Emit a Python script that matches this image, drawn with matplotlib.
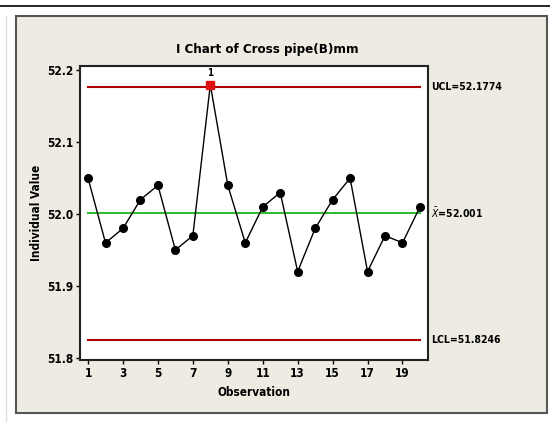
import matplotlib
matplotlib.use("Agg")
import matplotlib.pyplot as plt
from matplotlib.patches import Rectangle
from matplotlib.lines import Line2D

observations = list(range(1, 21))
values = [52.05, 51.96, 51.98, 52.02, 52.04, 51.95, 51.97, 52.18, 52.04, 51.96,
          52.01, 52.03, 51.92, 51.98, 52.02, 52.05, 51.92, 51.97, 51.96, 52.01]
ucl = 52.1774
center = 52.001
lcl = 51.8246
out_of_control = [8]
xticks = [1, 3, 5, 7, 9, 11, 13, 15, 17, 19]
yticks = [51.8, 51.9, 52.0, 52.1, 52.2]

plt.rcParams['font.family'] = ['DejaVu Sans']
plt.rcParams['font.stretch'] = 'condensed'

W, H = 550, 422
fig = plt.figure(figsize=(W / 100, H / 100), dpi=100)
fig.patch.set_facecolor('white')

# panel background
fig.patches.append(Rectangle((16 / W, 1 - 413 / H), (547 - 16) / W, (413 - 16) / H,
                             transform=fig.transFigure, facecolor='#EEEBE2',
                             edgecolor='#555555', linewidth=1.5, zorder=-5))
fig.lines.append(Line2D([0, 1], [1 - 6 / H, 1 - 6 / H], transform=fig.transFigure,
                        color='black', linewidth=1.2, zorder=-5))
fig.lines.append(Line2D([6 / W, 6 / W], [1 - 16 / H, 0], transform=fig.transFigure,
                        color='#DDDDDD', linewidth=1, zorder=-5))

ax = fig.add_axes([80 / W, 1 - 360 / H, (428 - 80) / W, (360 - 66) / H])
ax.set_zorder(5)
ax.set_facecolor('white')
ax.set_xlim(0.54, 20.46)
ax.set_ylim(51.797, 52.206)

ax.plot([1, 20], [ucl, ucl], color='#B00000', linewidth=1.5, zorder=1)
ax.plot([1, 20], [lcl, lcl], color='#B00000', linewidth=1.5, zorder=1)
ax.plot([1, 20], [center, center], color='#33BB33', linewidth=1.5, zorder=1)

ax.plot(observations, values, color='black', linewidth=1, marker='o',
        markersize=5.5, zorder=2)
for o in out_of_control:
    ax.plot([o], [values[o - 1]], marker='s', color='#DD1111', markersize=6,
            linestyle='none', zorder=3)
    ax.text(o, values[o - 1] + 0.009, '1', ha='center', va='bottom',
            fontsize=7, fontweight='bold')

ax.set_xticks(xticks)
ax.set_yticks(yticks)
ax.set_yticklabels([f'{t:.1f}' for t in yticks])
ax.tick_params(direction='out', length=3, width=1, labelsize=8.5, pad=2)
for lab in ax.get_xticklabels() + ax.get_yticklabels():
    lab.set_fontweight('bold')
for sp in ax.spines.values():
    sp.set_linewidth(1.5)
    sp.set_color('#222222')

ax.set_xlabel('Observation', fontsize=8.5, fontweight='bold', labelpad=4)
ax.set_ylabel('Individual Value', fontsize=8.5, fontweight='bold', labelpad=3)

ax.text(1.01, ucl, f'UCL={ucl}', transform=ax.get_yaxis_transform(),
        ha='left', va='center', fontsize=7.5, fontweight='bold')
ax.text(1.01, center, r'$\bar{X}$' + f'={center}', transform=ax.get_yaxis_transform(),
        ha='left', va='center', fontsize=7.5, fontweight='bold')
ax.text(1.01, lcl, f'LCL={lcl}', transform=ax.get_yaxis_transform(),
        ha='left', va='center', fontsize=7.5, fontweight='bold')

fig.text(267 / W, 1 - 50 / H, 'I Chart of Cross pipe(B)mm', ha='center', va='center',
         fontsize=9.5, fontweight='bold')

fig.savefig('out.png', dpi=100)
